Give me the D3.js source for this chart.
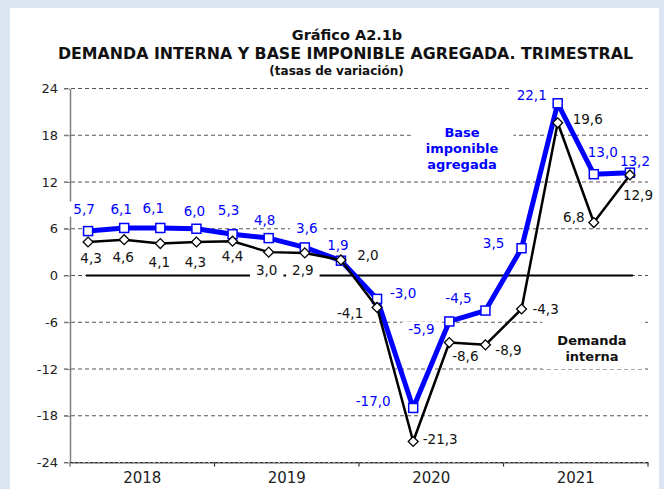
<!DOCTYPE html>
<html>
<head>
<meta charset="utf-8">
<script src="https://cdn.jsdelivr.net/npm/d3@7"></script>
<style>
    body { margin: 0; background: #dbe5f1; }
    svg { display: block; font-family: "DejaVu Sans", Verdana, sans-serif; }
</style>
</head>
<body>
<svg width="664" height="489"></svg>
<script>
// quarters shown on the x axis, grouped by year
var quarters = ['2018-I', '2018-II', '2018-III', '2018-IV',
                '2019-I', '2019-II', '2019-III', '2019-IV',
                '2020-I', '2020-II', '2020-III', '2020-IV',
                '2021-I', '2021-II', '2021-III', '2021-IV'];
var years = ['2018', '2019', '2020', '2021'];

// tasas de variación (%)
var baseImponible = [5.7, 6.1, 6.1, 6.0, 5.3, 4.8, 3.6, 1.9, -3.0, -17.0, -5.9, -4.5, 3.5, 22.1, 13.0, 13.2];
var demandaInterna = [4.3, 4.6, 4.1, 4.3, 4.4, 3.0, 2.9, 2.0, -4.1, -21.3, -8.6, -8.9, -4.3, 19.6, 6.8, 12.9];

var yTicks = [-24, -18, -12, -6, 0, 6, 12, 18, 24];

// where each value label sits relative to its point (px)
var baseOffsets = [[-4, -22], [-3, -19], [-7, -20], [-2, -17], [-4, -24], [-4, -18], [2, -19], [-3, -15],
                   [26, -6], [-40, -7], [-28, 8], [-27, -12], [-28, -5], [-26, -8], [9, -22], [5, -11]];
var demOffsets = [[3, 16], [-1, 18], [-1, 19], [-1, 20], [0, 15], [-2, 18], [-2, 17], [27, -5],
                  [-27, 6], [27, -2], [16, 14], [23, 5], [24, 0], [30, -4], [-20, -5], [8, 20]];

var blue = '#0000ff';
var ink = '#111';

var svg = d3.select('svg');

// white panel inside the light blue frame
svg.append('rect').attr('x', 10).attr('y', 8).attr('width', 649).attr('height', 481).attr('fill', '#fff');

// titles
svg.append('text').attr('x', 347).attr('y', 40).attr('text-anchor', 'middle')
    .attr('font-size', '14.5px').attr('font-weight', 'bold').attr('fill', ink)
    .text('Gráfico A2.1b');
svg.append('text').attr('x', 345.5).attr('y', 59).attr('text-anchor', 'middle')
    .attr('font-size', '15.8px').attr('font-weight', 'bold').attr('fill', ink)
    .text('DEMANDA INTERNA Y BASE IMPONIBLE AGREGADA. TRIMESTRAL');
svg.append('text').attr('x', 336.5).attr('y', 75).attr('text-anchor', 'middle')
    .attr('font-size', '12px').attr('font-weight', 'bold').attr('fill', ink)
    .text('(tasas de variación)');

// scales
var plotL = 70, plotR = 648, plotT = 88.5, plotB = 462.5;
var x = d3.scaleBand().domain(quarters).range([plotL, plotR]);
var xYear = d3.scaleBand().domain(years).range([plotL, plotR]);
var y = d3.scaleLinear().domain([-24, 24]).range([plotB, plotT]);
function cx(i) { return x(quarters[i]) + x.bandwidth() / 2; }

var gridG = svg.append('g');
var boxG = svg.append('g');
var seriesG = svg.append('g');
var labelG = svg.append('g');

// dashed gridlines
gridG.selectAll('line.grid').data(yTicks).enter().append('line')
    .attr('class', 'grid')
    .attr('x1', plotL - 6).attr('x2', plotR)
    .attr('y1', d => y(d)).attr('y2', d => y(d))
    .attr('stroke', '#555').attr('stroke-width', 1).attr('stroke-dasharray', '4,3');

// y axis (plain hyphen for negatives, like the original)
var yAxis = gridG.append('g').attr('transform', `translate(${plotL},0)`)
    .call(d3.axisLeft(y).tickValues(yTicks).tickFormat(d => String(d))
        .tickSize(6).tickSizeOuter(0).tickPadding(6));
yAxis.select('.domain').attr('stroke', '#808080').attr('stroke-width', 1.5);
yAxis.selectAll('.tick line').attr('stroke', '#808080');
yAxis.selectAll('.tick text').attr('font-size', '13px').attr('fill', '#222')
    .attr('font-family', '"DejaVu Sans", Verdana, sans-serif');

// x axis with years
var xAxis = gridG.append('g').attr('transform', `translate(0,${plotB})`)
    .call(d3.axisBottom(xYear).tickSize(0).tickPadding(10));
xAxis.select('.domain').attr('stroke', '#888').attr('stroke-width', 1.5);
xAxis.selectAll('.tick text').attr('font-size', '15px').attr('fill', '#222')
    .attr('font-family', '"DejaVu Sans", Verdana, sans-serif');
gridG.append('line').attr('x1', plotL).attr('x2', plotR).attr('y1', plotB).attr('y2', plotB)
    .attr('stroke', '#333').attr('stroke-dasharray', '3,2');
gridG.selectAll('line.ytick').data(years.slice(1).map(d => xYear(d)).concat([plotR])).enter()
    .append('line').attr('class', 'ytick')
    .attr('x1', d => d).attr('x2', d => d).attr('y1', plotB).attr('y2', plotB + 4)
    .attr('stroke', '#333').attr('stroke-width', 1.2);
gridG.append('line').attr('x1', plotL).attr('x2', plotL).attr('y1', plotB).attr('y2', plotB + 4)
    .attr('stroke', '#808080').attr('stroke-width', 1.5);

// zero line
gridG.append('line')
    .attr('x1', cx(0) - 2).attr('x2', cx(quarters.length - 1) + 3)
    .attr('y1', y(0)).attr('y2', y(0))
    .attr('stroke', '#000').attr('stroke-width', 2);

// series
var line = d3.line().x((d, i) => cx(i)).y(d => y(d));

seriesG.append('path').datum(baseImponible).attr('d', line)
    .attr('fill', 'none').attr('stroke', blue).attr('stroke-width', 5).attr('stroke-linejoin', 'round');
seriesG.selectAll('rect.sq').data(baseImponible).enter().append('rect').attr('class', 'sq')
    .attr('x', (d, i) => cx(i) - 4.5).attr('y', d => y(d) - 4.5)
    .attr('width', 9).attr('height', 9)
    .attr('fill', '#fff').attr('stroke', blue).attr('stroke-width', 1.5);

seriesG.append('path').datum(demandaInterna).attr('d', line)
    .attr('fill', 'none').attr('stroke', '#000').attr('stroke-width', 2.5).attr('stroke-linejoin', 'round');
seriesG.selectAll('path.dia').data(demandaInterna).enter().append('path').attr('class', 'dia')
    .attr('d', d3.symbol(d3.symbolSquare, 49))
    .attr('transform', (d, i) => `translate(${cx(i)},${y(d)}) rotate(45)`)
    .attr('fill', '#fff').attr('stroke', '#000').attr('stroke-width', 1.3);

// value labels with white boxes behind them
var fmt = v => d3.format('.1f')(v).replace('\u2212', '-').replace('.', ',');

function addLabels(values, offsets, color) {
    values.forEach(function (v, i) {
        var t = labelG.append('text')
            .attr('x', cx(i) + offsets[i][0])
            .attr('y', y(v) + offsets[i][1])
            .attr('dy', '0.35em')
            .attr('text-anchor', 'middle')
            .attr('font-size', '13.5px')
            .attr('fill', color)
            .text(fmt(v));
        var w = t.node().getComputedTextLength();
        boxG.append('rect')
            .attr('x', cx(i) + offsets[i][0] - w / 2 - 6)
            .attr('y', y(v) + offsets[i][1] - 7.5)
            .attr('width', w + 12).attr('height', 15)
            .attr('fill', '#fff');
    });
}
addLabels(baseImponible, baseOffsets, blue);
addLabels(demandaInterna, demOffsets, ink);

// series names
function addLegend(lines, xc, y0, color) {
    var t = labelG.append('text').attr('text-anchor', 'middle')
        .attr('font-size', '13px').attr('font-weight', 'bold').attr('fill', color);
    lines.forEach(function (s, k) {
        t.append('tspan').attr('x', xc).attr('y', y0 + k * 16).text(s);
    });
    var b = t.node().getBBox();
    boxG.append('rect').attr('x', b.x - 15).attr('y', b.y - 13)
        .attr('width', b.width + 30).attr('height', b.height + 18).attr('fill', '#fff');
}
addLegend(['Base', 'imponible', 'agregada'], 462, 137, blue);
addLegend(['Demanda', 'interna'], 592, 345, ink);
</script>
</body>
</html>
